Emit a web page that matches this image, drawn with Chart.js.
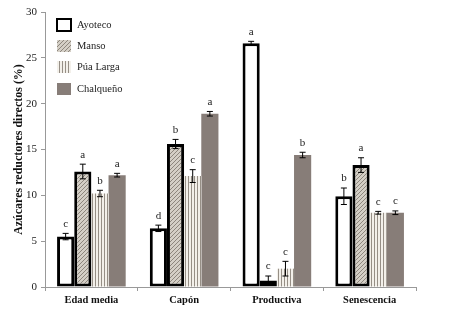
<!DOCTYPE html>
<html>
<head>
<meta charset="utf-8">
<script src="https://cdn.jsdelivr.net/npm/chart.js@4.4.1/dist/chart.umd.min.js"></script>
<style>
  html, body { margin: 0; padding: 0; background: #fff; }
  #wrap { width: 452px; height: 310px; position: relative; }
</style>
</head>
<body>
<div id="wrap"><canvas id="chart" width="452" height="310"></canvas></div>
<script>
// --- data ---
const categories = ['Edad media', 'Capón', 'Productiva', 'Senescencia'];
const seriesNames = ['Ayoteco', 'Manso', 'Púa Larga', 'Chalqueño'];
const ayoteco   = [5.5, 6.4, 26.6, 9.9];
const manso     = [12.6, 15.6, 0.7, 13.3];
const puaLarga  = [10.2, 12.1, 2.0, 8.1];
const chalqueno = [12.2, 18.9, 14.4, 8.1];
const errAyoteco   = [0.35, 0.35, 0.2, 0.9];
const errManso     = [0.8, 0.5, 0.5, 0.8];
const errPuaLarga  = [0.35, 0.7, 0.8, 0.15];
const errChalqueno = [0.2, 0.25, 0.3, 0.2];
const lettersAyoteco   = ['c', 'd', 'a', 'b'];
const lettersManso     = ['a', 'b', 'c', 'a'];
const lettersPuaLarga  = ['b', 'c', 'c', 'c'];
const lettersChalqueno = ['a', 'a', 'b', 'c'];
const yTicks = [0, 5, 10, 15, 20, 25, 30];

const serif = '"Liberation Serif", "DejaVu Serif", serif';

// fill patterns
function hatchPattern() {
  const c = document.createElement('canvas');
  c.width = 4; c.height = 4;
  const g = c.getContext('2d');
  g.fillStyle = '#d4cfc6';
  g.fillRect(0, 0, 4, 4);
  g.strokeStyle = '#8d867d';
  g.lineWidth = 1;
  g.beginPath();
  g.moveTo(0, 4); g.lineTo(4, 0);
  g.moveTo(-1, 1); g.lineTo(1, -1);
  g.moveTo(3, 5); g.lineTo(5, 3);
  g.stroke();
  return g.createPattern(c, 'repeat');
}
function stripePattern() {
  const c = document.createElement('canvas');
  c.width = 3; c.height = 3;
  const g = c.getContext('2d');
  g.fillStyle = '#f3f0ea';
  g.fillRect(0, 0, 3, 3);
  g.fillStyle = '#968f86';
  g.fillRect(2, 0, 1, 3);
  return g.createPattern(c, 'repeat');
}
const ctx = document.getElementById('chart').getContext('2d');
const fills = ['#ffffff', hatchPattern(), stripePattern(), '#877d78'];
const borders = [3, 3, 0, 0];
const errs = [errAyoteco, errManso, errPuaLarga, errChalqueno];
const letters = [lettersAyoteco, lettersManso, lettersPuaLarga, lettersChalqueno];
const values = [ayoteco, manso, puaLarga, chalqueno];

// error bars, significance letters and the boxed legend
const extras = {
  id: 'extras',
  afterDatasetsDraw(chart) {
    const g = chart.ctx;
    const y = chart.scales.y;
    g.save();
    chart.data.datasets.forEach((ds, i) => {
      const meta = chart.getDatasetMeta(i);
      meta.data.forEach((bar, j) => {
        const v = ds.data[j];
        const e = errs[i][j];
        const top = y.getPixelForValue(v + e);
        const bot = y.getPixelForValue(v - e);
        g.strokeStyle = '#000';
        g.lineWidth = 1;
        g.beginPath();
        g.moveTo(bar.x, top); g.lineTo(bar.x, bot);
        g.moveTo(bar.x - 3, top); g.lineTo(bar.x + 3, top);
        g.moveTo(bar.x - 3, bot); g.lineTo(bar.x + 3, bot);
        g.stroke();
        g.fillStyle = '#222';
        g.font = '11px ' + serif;
        g.textAlign = 'center';
        g.textBaseline = 'bottom';
        g.fillText(letters[i][j], bar.x, top - 4);
      });
    });
    // legend
    const boxY = [19, 40, 61, 83];
    seriesNames.forEach((name, i) => {
      g.fillStyle = fills[i];
      g.fillRect(57, boxY[i], 14, 12);
      if (i === 0) {
        g.strokeStyle = '#000';
        g.lineWidth = 2;
        g.strokeRect(57, boxY[i], 14, 12);
      }
      g.fillStyle = '#222';
      g.font = '10.5px ' + serif;
      g.textAlign = 'left';
      g.textBaseline = 'middle';
      g.fillText(name, 77, boxY[i] + 6);
    });
    g.restore();
  }
};

new Chart(ctx, {
  type: 'bar',
  data: {
    labels: categories,
    datasets: seriesNames.map((name, i) => ({
      label: name,
      data: values[i],
      backgroundColor: fills[i],
      borderColor: '#000',
      borderWidth: borders[i],
      borderSkipped: false
    }))
  },
  options: {
    responsive: false,
    animation: false,
    devicePixelRatio: 1,
    layout: { padding: { top: 12, right: 36, left: 12, bottom: 0 } },
    datasets: { bar: { categoryPercentage: 0.74, barPercentage: 1.0 } },
    plugins: { legend: { display: false }, tooltip: { enabled: false } },
    scales: {
      x: {
        grid: { offset: true, drawOnChartArea: false, tickLength: 4, color: '#999' },
        border: { color: '#999' },
        ticks: { color: '#111', font: { family: serif, size: 10.5, weight: 'bold' }, padding: 3 },
        afterFit(s) { s.height = 23; }
      },
      y: {
        min: 0, max: 30,
        afterBuildTicks(s) { s.ticks = yTicks.map(v => ({ value: v })); },
        grid: { drawOnChartArea: false, tickLength: 4, color: '#999' },
        border: { color: '#999' },
        ticks: { color: '#222', font: { family: serif, size: 11 }, padding: 4 },
        title: {
          display: true,
          text: 'Azúcares reductores directos (%)',
          color: '#111',
          font: { family: serif, size: 12, weight: 'bold' },
          padding: 0
        },
        afterFit(s) { s.width = 33; }
      }
    }
  },
  plugins: [extras]
});
</script>
</body>
</html>
